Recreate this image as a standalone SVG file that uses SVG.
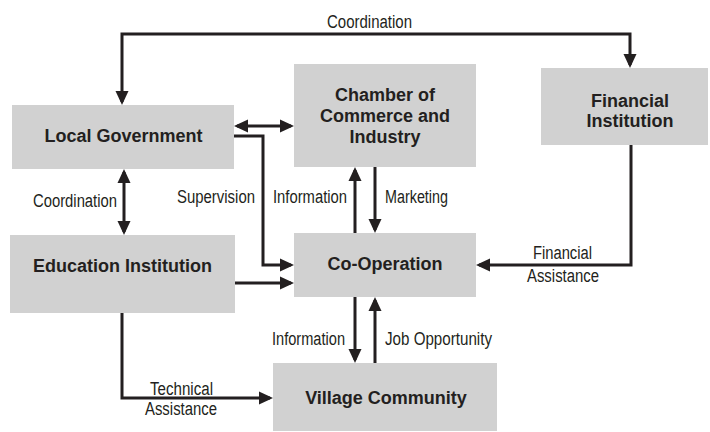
<svg xmlns="http://www.w3.org/2000/svg" width="710" height="432" viewBox="0 0 710 432">
<style>
.box{fill:#d1d1d1;stroke:none}
.nl{font-family:"Liberation Sans",Arial,sans-serif;font-weight:bold;font-size:18px;fill:#231f20;text-anchor:middle}
.el{font-family:"Liberation Sans Narrow","Liberation Sans",Arial,sans-serif;font-size:18px;fill:#231f20}
.cn{fill:none;stroke:#231f20;stroke-width:3}
</style>
<defs>
<marker id="ah" viewBox="0 0 14 14" markerUnits="userSpaceOnUse" markerWidth="14" markerHeight="14" refX="11" refY="7" orient="auto-start-reverse">
<path d="M0,0.5 L14,7 L0,13.5 z" fill="#231f20"/>
</marker>
</defs>
<rect width="710" height="432" fill="#ffffff"/>
<g id="connectors">
<path class="cn" d="M122,102 V34 H630 V65" marker-start="url(#ah)" marker-end="url(#ah)"/>
<path class="cn" d="M237,126 H291" marker-start="url(#ah)" marker-end="url(#ah)"/>
<path class="cn" d="M234,136 H263 V265 H291" marker-end="url(#ah)"/>
<path class="cn" d="M124,172 V232" marker-start="url(#ah)" marker-end="url(#ah)"/>
<path class="cn" d="M235,283 H291" marker-end="url(#ah)"/>
<path class="cn" d="M355,233 V170" marker-end="url(#ah)"/>
<path class="cn" d="M375,167 V230" marker-end="url(#ah)"/>
<path class="cn" d="M631,145 V265 H479" marker-end="url(#ah)"/>
<path class="cn" d="M355,297 V360" marker-end="url(#ah)"/>
<path class="cn" d="M375,363 V300" marker-end="url(#ah)"/>
<path class="cn" d="M122,313 V398 H270" marker-end="url(#ah)"/>
<text class="el" x="327" y="28" textLength="85" lengthAdjust="spacingAndGlyphs">Coordination</text>
<text class="el" x="33" y="207" textLength="84" lengthAdjust="spacingAndGlyphs">Coordination</text>
<text class="el" x="177" y="203" textLength="78" lengthAdjust="spacingAndGlyphs">Supervision</text>
<text class="el" x="273" y="203" textLength="74" lengthAdjust="spacingAndGlyphs">Information</text>
<text class="el" x="385" y="203" textLength="63" lengthAdjust="spacingAndGlyphs">Marketing</text>
<text class="el" x="533" y="259" textLength="59" lengthAdjust="spacingAndGlyphs">Financial</text>
<text class="el" x="527" y="282" textLength="72" lengthAdjust="spacingAndGlyphs">Assistance</text>
<text class="el" x="272" y="345" textLength="73" lengthAdjust="spacingAndGlyphs">Information</text>
<text class="el" x="385" y="345" textLength="107" lengthAdjust="spacingAndGlyphs">Job Opportunity</text>
<text class="el" x="150" y="395" textLength="63" lengthAdjust="spacingAndGlyphs">Technical</text>
<text class="el" x="145" y="415" textLength="72" lengthAdjust="spacingAndGlyphs">Assistance</text>
</g>
<g id="local-government">
<rect class="box" x="12" y="105" width="222" height="64"/>
<text class="nl" x="123.5" y="142">Local Government</text>
</g>
<g id="chamber">
<rect class="box" x="294" y="64" width="182" height="103"/>
<text class="nl" x="385" y="101">Chamber of</text>
<text class="nl" x="385" y="122">Commerce and</text>
<text class="nl" x="385" y="143">Industry</text>
</g>
<g id="financial-institution">
<rect class="box" x="541" y="68" width="167" height="77"/>
<text class="nl" x="630" y="107">Financial</text>
<text class="nl" x="630" y="127">Institution</text>
</g>
<g id="education-institution">
<rect class="box" x="10" y="235" width="225" height="78"/>
<text class="nl" x="122.5" y="272">Education Institution</text>
</g>
<g id="co-operation">
<rect class="box" x="294" y="233" width="182" height="64"/>
<text class="nl" x="385" y="270">Co-Operation</text>
</g>
<g id="village-community">
<rect class="box" x="273" y="363" width="224" height="68"/>
<text class="nl" x="386" y="404">Village Community</text>
</g>
</svg>
